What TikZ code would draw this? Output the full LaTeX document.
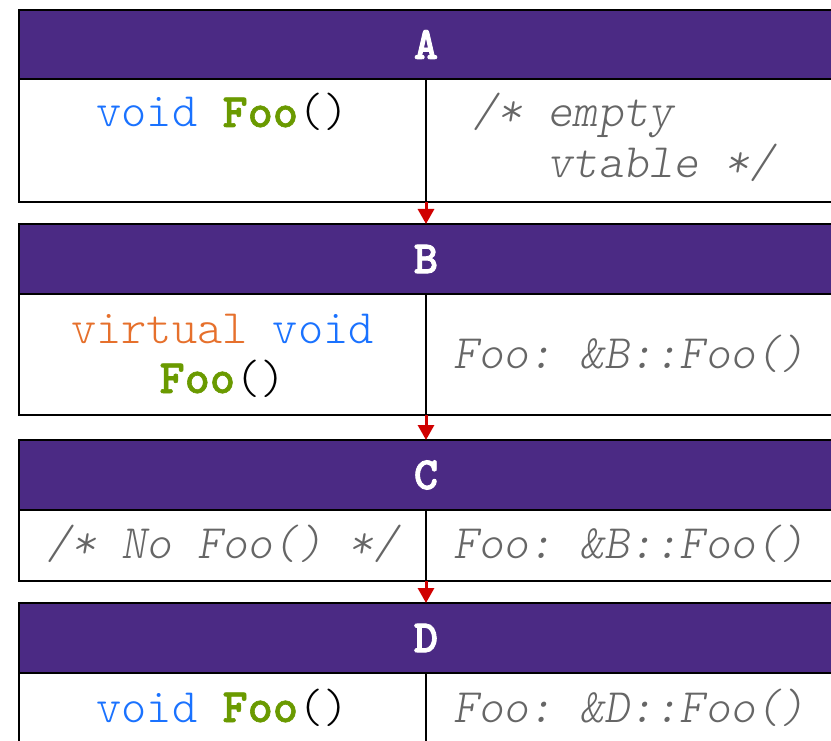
\documentclass[tikz,border=0pt]{standalone}
\usepackage{fontspec}
\setmonofont{lmmonolt10-regular.otf}[
  BoldFont=lmmonolt10-bold.otf,
  BoldFeatures={FakeBold=1.2},
  ItalicFont=lmmonolt10-oblique.otf]
\newfontfamily\titlefont{lmmonolt10-bold.otf}[FakeBold=2]
\usetikzlibrary{arrows.meta}

\definecolor{hdrpurple}{HTML}{4B2A84}
\definecolor{kwblue}{HTML}{1A72FF}
\definecolor{fngreen}{HTML}{6A9A00}
\definecolor{kworange}{HTML}{E6702C}
\definecolor{cmtgrey}{HTML}{666666}
\definecolor{arrowred}{HTML}{D00000}

\newcommand{\kw}[1]{\textcolor{kwblue}{#1}}
\newcommand{\vkw}[1]{\textcolor{kworange}{#1}}
\newcommand{\fn}[1]{\textcolor{fngreen}{\bfseries #1}}

\begin{document}
\begin{tikzpicture}[x=1pt,y=-1pt,
  every node/.style={inner sep=0pt,outer sep=0pt},
  hdrbox/.style={draw=black,line width=2.4pt,fill=hdrpurple,text=white,
    font=\fontsize{46}{50}\selectfont\titlefont,
    anchor=north west,minimum width=814pt},
  cell/.style={draw=black,line width=2.4pt,fill=white,
    anchor=north west,minimum width=407pt},
  code/.style={font=\fontsize{48}{51}\selectfont\ttfamily,anchor=base},
  cmt/.style={font=\fontsize{48}{51}\selectfont\ttfamily\itshape,
    text=cmtgrey,anchor=base},
  inherit/.style={draw=arrowred,line width=3pt,
    -{Triangle[length=15pt,width=16pt]}}
]
\clip (0,0) rectangle (831,741);
\fill[white] (0,0) rectangle (831,741);

% class A
\node[hdrbox,minimum height=69pt] (hA) at (19,10) {A};
\node[cell,minimum height=123pt] (aL) at (19,79) {};
\node[cell,minimum height=123pt] (aR) at (426,79) {};
\node[code] (aLt) at (222.5,127) {\kw{void} \fn{Foo}()};
\node[cmt,anchor=base west] (aRt1) at (472,127) {/* empty};
\node[cmt,anchor=base west] (aRt2) at (547.6,178) {vtable */};

% class B
\node[hdrbox,minimum height=70pt] (hB) at (19,224) {B};
\node[cell,minimum height=121pt] (bL) at (19,294) {};
\node[cell,minimum height=121pt] (bR) at (426,294) {};
\node[code] (bLt1) at (222.5,343) {\vkw{virtual} \kw{void}};
\node[code] (bLt2) at (222.5,393) {\fn{Foo}()};
\node[cmt] (bRt) at (629.5,368) {Foo: \&B::Foo()};

% class C
\node[hdrbox,minimum height=70pt] (hC) at (19,440) {C};
\node[cell,minimum height=71pt] (cL) at (19,510) {};
\node[cell,minimum height=71pt] (cR) at (426,510) {};
\node[cmt] (cLt) at (222.5,558) {/* No Foo() */};
\node[cmt] (cRt) at (629.5,558) {Foo: \&B::Foo()};

% class D
\node[hdrbox,minimum height=70pt] (hD) at (19,603) {D};
\node[cell,minimum height=110pt] (dL) at (19,673) {};
\node[cell,minimum height=110pt] (dR) at (426,673) {};
\node[code] (dLt) at (222.5,722) {\kw{void} \fn{Foo}()};
\node[cmt] (dRt) at (629.5,722) {Foo: \&D::Foo()};

% inheritance arrows
\draw[inherit] (aL.south east) -- (hB.north);
\draw[inherit] (bL.south east) -- (hC.north);
\draw[inherit] (cL.south east) -- (hD.north);
\end{tikzpicture}
\end{document}
